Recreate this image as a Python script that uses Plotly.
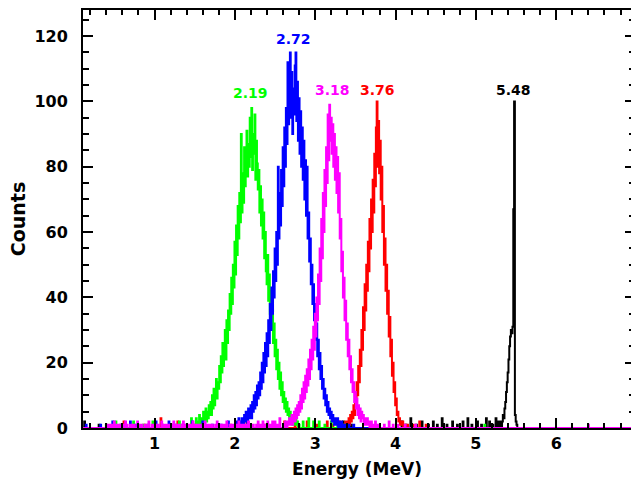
import numpy as np
import plotly.graph_objects as go

# ---------------- data (counts per 0.01 MeV bin) ----------------
bin_width = 0.01
e_min, e_max = 0.10, 6.93

green_start = 1.50
green_counts = [
    1, 0, 3, 1, 2, 0, 4, 1, 2, 3,
    2, 5, 1, 4, 6, 2, 5, 3, 7, 4,
    8, 4, 10, 6, 12, 7, 11, 15, 9, 14,
    12, 19, 14, 22, 17, 26, 19, 24, 30, 21,
    33, 26, 36, 30, 41, 35, 46, 38, 50, 43,
    57, 47, 62, 53, 68, 58, 72, 63, 90, 66,
    78, 69, 86, 74, 82, 91, 77, 87, 80, 95,
    83, 98, 79, 90, 84, 96, 76, 88, 81, 73,
    79, 66, 74, 62, 70, 58, 66, 52, 60, 48,
    44, 53, 39, 47, 35, 42, 30, 37, 26, 32,
    22, 27, 18, 24, 15, 20, 12, 17, 10, 14,
    8, 11, 6, 9, 5, 8, 4, 6, 3, 5,
    2, 4, 1, 3, 2, 1, 3, 1, 2, 0,
    1,
]

blue_start = 2.00
blue_counts = [
    0, 1, 0, 2, 1, 3, 0, 2, 1, 3,
    2, 1, 4, 2, 5, 3, 1, 6, 3, 5,
    7, 3, 8, 5, 10, 6, 11, 7, 13, 9,
    14, 10, 17, 12, 20, 14, 23, 17, 26, 19,
    29, 22, 33, 26, 38, 30, 43, 35, 48, 40,
    55, 45, 60, 50, 80, 58, 72, 62, 79, 68,
    86, 74, 92, 80, 98, 87, 112, 93, 105, 115,
    95, 109, 90, 104, 96, 111, 115, 94, 106, 88,
    101, 84, 97, 80, 92, 76, 88, 70, 82, 65,
    80, 58, 66, 51, 58, 44, 50, 38, 44, 33,
    38, 27, 32, 22, 27, 18, 23, 15, 19, 12,
    15, 9, 12, 7, 10, 5, 8, 4, 6, 3,
    5, 2, 4, 3, 1, 3, 2, 1, 3, 0,
    2, 1, 0, 2, 1, 0, 1, 0, 1, 0,
]

magenta_start = 2.60
magenta_counts = [
    0, 1, 0, 2, 1, 0, 2, 1, 3, 1,
    2, 4, 1, 3, 5, 2, 6, 3, 7, 4,
    8, 5, 10, 6, 12, 8, 14, 9, 16, 11,
    18, 13, 21, 15, 24, 18, 27, 21, 31, 24,
    35, 28, 40, 33, 47, 38, 55, 45, 64, 52,
    72, 60, 79, 68, 86, 75, 96, 82, 99, 88,
    95, 84, 93, 80, 90, 76, 86, 72, 83, 66,
    78, 58, 64, 48, 54, 40, 46, 33, 39, 27,
    32, 22, 27, 18, 22, 14, 18, 11, 14, 8,
    11, 6, 9, 4, 7, 3, 6, 2, 5, 3,
    4, 1, 3, 2, 1, 3, 1, 2, 0, 1,
    2, 0, 1, 1, 0, 2, 0, 1, 0, 1,
    1,
]

red_start = 3.35
red_counts = [
    0, 1, 0, 2, 1,
    2, 1, 3, 1, 4, 2, 5, 3, 7, 4,
    10, 7, 14, 10, 19, 14, 24, 19, 30, 24,
    37, 30, 44, 36, 50, 42, 57, 48, 64, 55,
    70, 60, 76, 66, 84, 74, 92, 100, 80, 94,
    78, 88, 70, 80, 60, 68, 50, 58, 42, 50,
    35, 42, 28, 34, 22, 27, 16, 20, 11, 14,
    7, 9, 4, 5, 2, 3, 1, 2, 1, 2,
    0, 1, 0, 1, 1,
]

black_start = 5.33
black_counts = [
    2, 4, 3, 6, 8, 11, 14, 17, 21, 25,
    28, 30, 29, 31, 67, 100, 4, 2, 1,
]

# sparse low-level background hits (energy MeV, counts)
magenta_noise_e = [0.42, 0.45, 0.47, 0.50, 0.53, 0.56, 0.58, 0.61, 0.64, 0.66, 0.70, 0.72,
                   0.75, 0.79, 0.82, 0.84, 0.88, 0.91, 0.93, 0.97, 1.00, 1.03, 1.05, 1.09,
                   1.12, 1.15, 1.18, 1.21, 1.24, 1.27, 1.30, 1.34, 1.36, 1.38, 1.42, 1.45,
                   1.48, 1.51, 1.54, 1.57, 1.61, 1.63, 1.66, 1.69, 1.72, 1.76, 1.78, 1.81,
                   1.84, 1.87, 1.90, 1.94, 1.96, 1.99, 2.02, 2.05, 2.08, 2.11, 2.14, 2.17,
                   2.20, 2.23, 2.27, 2.29, 2.32, 2.35, 2.38, 2.41, 2.44, 2.47, 2.50, 2.53,
                   2.56, 3.86, 3.92, 3.97, 4.03, 4.12, 4.25, 6.40]
magenta_noise_c = [1, 1, 1, 2, 1, 1, 1, 1, 2, 1, 1, 1,
                   1, 2, 1, 1, 1, 1, 2, 1, 1, 1, 1, 2,
                   1, 1, 1, 1, 2, 1, 1, 1, 2, 1, 1, 1,
                   2, 1, 1, 1, 1, 2, 1, 1, 1, 1, 2, 1,
                   1, 1, 2, 1, 1, 1, 1, 2, 1, 1, 1, 2,
                   1, 1, 1, 2, 1, 2, 1, 2, 1, 2, 2, 1,
                   3, 1, 2, 1, 1, 1, 1, 1]

blue_noise_e = [0.15, 0.33, 0.48, 0.58, 0.70, 0.77, 0.92, 1.02, 1.18, 1.26, 1.35, 1.47,
                1.60, 1.72, 1.83, 1.92, 3.42, 3.48]
blue_noise_c = [1, 1, 2, 1, 2, 1, 1, 2, 2, 1, 1, 2,
                2, 1, 1, 2, 1, 1]

green_noise_e = [0.40, 0.52, 0.64, 0.74, 0.86, 0.98, 1.10, 1.22, 1.31, 1.40, 1.46,
                 2.85, 2.92, 2.98, 3.05, 3.12, 3.20, 3.28, 3.36, 5.11]
green_noise_c = [1, 2, 1, 2, 1, 2, 1, 1, 2, 1, 3,
                 2, 3, 2, 2, 1, 2, 1, 1, 1]

red_noise_e = [0.62, 0.88, 1.08, 1.29, 1.50, 1.95, 2.15, 2.38, 2.62, 2.75, 2.90, 3.02,
               3.15, 3.22, 3.30, 4.15, 4.22, 4.30, 4.38]
red_noise_c = [2, 1, 3, 2, 1, 1, 2, 1, 2, 1, 2, 1,
               2, 1, 2, 1, 1, 2, 1]

black_noise_e = [0.13, 0.31, 3.35, 3.45, 4.08, 4.13, 4.19, 4.26, 4.33, 4.41, 4.47, 4.52,
                 4.58, 4.64, 4.71, 4.77, 4.84, 4.90, 4.95, 5.02, 5.07, 5.13, 5.17, 5.21,
                 5.25, 5.28, 5.31]
black_noise_c = [2, 1, 2, 1, 2, 1, 3, 1, 2, 1, 2, 1,
                 3, 1, 2, 1, 2, 3, 1, 2, 1, 3, 2, 1,
                 3, 2, 2]

peak_labels = ["2.19", "2.72", "3.18", "3.76", "5.48"]
peak_label_x = [2.19, 2.73, 3.21, 3.77, 5.47]
peak_label_y = [102.5, 119, 103.5, 103.5, 103.5]

# ---------------- build histograms ----------------
n_bins = int(round((e_max - e_min) / bin_width)) + 1
grid = np.round(e_min + np.arange(n_bins) * bin_width, 2)


def build(start, counts, noise_e, noise_c):
    h = np.zeros(n_bins)
    for e, c in zip(noise_e, noise_c):
        i = int(round((e - e_min) / bin_width))
        if 0 <= i < n_bins:
            h[i] = c
    i0 = int(round((start - e_min) / bin_width))
    for k, c in enumerate(counts):
        if 0 <= i0 + k < n_bins:
            h[i0 + k] = max(h[i0 + k], c)
    return h


series = [
    ("black", black_start, black_counts, black_noise_e, black_noise_c),
    ("#ff0000", red_start, red_counts, red_noise_e, red_noise_c),
    ("#00ff00", green_start, green_counts, green_noise_e, green_noise_c),
    ("#0000ff", blue_start, blue_counts, blue_noise_e, blue_noise_c),
    ("#ff00ff", magenta_start, magenta_counts, magenta_noise_e, magenta_noise_c),
]

fig = go.Figure()
for color, start, counts, ne, nc in series:
    fig.add_trace(go.Scatter(
        x=grid, y=build(start, counts, ne, nc), mode="lines",
        line=dict(color=color, width=2, shape="hvh"),
        showlegend=False, hoverinfo="skip",
    ))

# invisible point so the right-hand tick axis is drawn
fig.add_trace(go.Scatter(x=[1], y=[0], yaxis="y2", mode="markers",
                         marker=dict(opacity=0), showlegend=False, hoverinfo="skip"))

label_colors = ["#00ff00", "#0000ff", "#ff00ff", "#ff0000", "black"]
for txt, lx, ly, col in zip(peak_labels, peak_label_x, peak_label_y, label_colors):
    fig.add_annotation(x=lx, y=ly, text=txt, showarrow=False,
                       font=dict(family="DejaVu Sans", size=14, color=col, weight="bold"))

tick_font = dict(family="DejaVu Sans", size=16, color="black", weight="bold")
title_font = dict(family="DejaVu Sans", size=17, color="black", weight="bold")
y_ticks = [0, 20, 40, 60, 80, 100, 120]

fig.update_layout(
    width=631, height=482,
    margin=dict(l=83, r=0, t=10, b=54, autoexpand=False),
    paper_bgcolor="white", plot_bgcolor="white",
    xaxis=dict(
        range=[0.11, 6.93], tickmode="array", tickvals=[1, 2, 3, 4, 5, 6],
        ticks="inside", ticklen=10, tickwidth=1.5, tickcolor="black",
        minor=dict(dtick=0.2, tick0=0, ticks="inside", ticklen=5, tickwidth=1.5, tickcolor="black"),
        showline=True, linecolor="black", linewidth=2, mirror="ticks",
        showgrid=False, zeroline=False, tickfont=tick_font, ticklabelstandoff=0,
        automargin=False,
        title=dict(text="Energy (MeV)", font=title_font, standoff=11),
    ),
    yaxis=dict(
        range=[0, 128], tickmode="array", tickvals=y_ticks,
        ticks="inside", ticklen=10, tickwidth=1.5, tickcolor="black",
        minor=dict(dtick=5, tick0=0, ticks="inside", ticklen=6, tickwidth=1.5, tickcolor="black"),
        showline=True, linecolor="black", linewidth=2, mirror=True,
        showgrid=False, zeroline=False, tickfont=tick_font, ticklabelstandoff=10,
        automargin=False,
        title=dict(text="Counts", font=dict(family="DejaVu Sans", size=19, color="black", weight="bold"),
                   standoff=4),
    ),
    yaxis2=dict(
        range=[0, 128], overlaying="y", side="right", tickmode="array",
        tickvals=y_ticks, showticklabels=False,
        ticks="inside", ticklen=6, tickwidth=1.5, tickcolor="black",
        minor=dict(dtick=5, tick0=0, ticks="inside", ticklen=2, tickwidth=1.5, tickcolor="black"),
        showline=False, showgrid=False, zeroline=False, automargin=False,
    ),
)

# remove the default page margin so the figure starts at the window's top-left corner
page_fix = (
    "document.documentElement.style.overflow='hidden';"
    "document.body.style.margin='0';"
    "document.body.style.overflow='hidden';"
)

fig.write_html("out.html", post_script=page_fix, config={"displayModeBar": False})
